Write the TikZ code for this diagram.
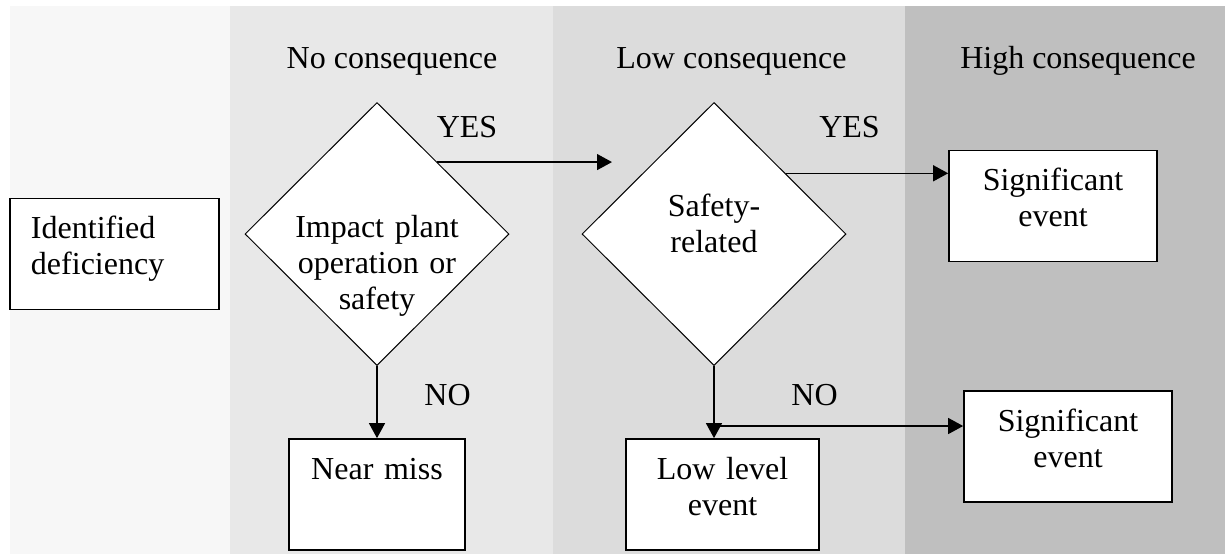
\documentclass[tikz,border=0pt]{standalone}
\usepackage{fontspec}
\setmainfont{Liberation Serif}
\usepackage{tikz}
\usetikzlibrary{shapes.geometric,arrows.meta,calc}

\definecolor{bandstart}{HTML}{F7F7F7}
\definecolor{bandnone}{HTML}{E8E8E8}
\definecolor{bandlow}{HTML}{DCDCDC}
\definecolor{bandhigh}{HTML}{BFBFBF}

\tikzset{
  eventbox/.style={draw, fill=white, line width=0.85pt, inner xsep=0pt, inner ysep=0pt,
    text height=20pt, text depth=35.5pt, align=center},
  decision/.style={diamond, aspect=1, draw, fill=white, line width=0.5pt, inner sep=0pt,
    minimum width=132pt, minimum height=131.5pt, align=center},
  flowarrow/.style={-{Triangle[length=7.5pt,width=8pt]}, line width=0.65pt},
  tag/.style={anchor=base}
}

\begin{document}
\begin{tikzpicture}[x=0.5pt,y=-0.5pt,font=\fontsize{16pt}{18pt}\selectfont]
   \useasboundingbox (0,0) rectangle (1225,554);
   \fill[white] (0,0) rectangle (1225,554);
   \fill[bandstart] (10,6) rectangle (230,554);
   \fill[bandnone] (230,6) rectangle (553,554);
   \fill[bandlow] (553,6) rectangle (905,554);
   \fill[bandhigh] (905,6) rectangle (1225,554);

   \node[tag] (hdrnone) at (392,68) {No consequence};
   \node[tag] (hdrlow) at (731.5,68) {Low consequence};
   \node[tag] (hdrhigh) at (1078,68) {High consequence};

   \node[eventbox, align=left, inner xsep=10.5pt, text width=83.5pt] (ident) at (114.5,254) {Identified\\deficiency};
   \node[decision, text width=92pt, text height=12pt, text depth=9pt] (impact) at (377,234) {Impact plant\\operation or\\safety};
   \node[decision, text width=60pt, text height=5pt, text depth=23pt] (safety) at (714,234) {Safety-\\related};
   \node[eventbox, text width=88pt] (nearmiss) at (377,494.5) {Near miss};
   \node[eventbox, text width=96.5pt] (lowlevel) at (722.5,494.5) {Low level\\event};
   \node[eventbox, text width=104pt] (sigtop) at (1053,206) {Significant\\event};
   \node[eventbox, text width=104pt] (sigbot) at (1068,446.5) {Significant\\event};

   \coordinate (yesstart) at ($(impact.north)!0.455!(impact.east)$);
   \coordinate (yesend) at (612,162);
   \draw[flowarrow] (yesstart) -- (yesstart -| yesend);
   \coordinate (yesstarttwo) at ($(safety.north)!0.54!(safety.east)$);
   \draw[flowarrow] (yesstarttwo) -- (yesstarttwo -| sigtop.west);
   \draw[flowarrow] (impact.south) -- (nearmiss.north);
   \draw[flowarrow] (safety.south) -- (safety.south |- lowlevel.north);
   \coordinate (nobranch) at (714,426);
   \draw[flowarrow] (nobranch) -- (nobranch -| sigbot.west);

   \node[tag] (yesone) at (467,137) {YES};
   \node[tag] (yestwo) at (849.5,137) {YES};
   \node[tag] (noone) at (447.5,405) {NO};
   \node[tag] (notwo) at (814.5,405) {NO};
\end{tikzpicture}
\end{document}
